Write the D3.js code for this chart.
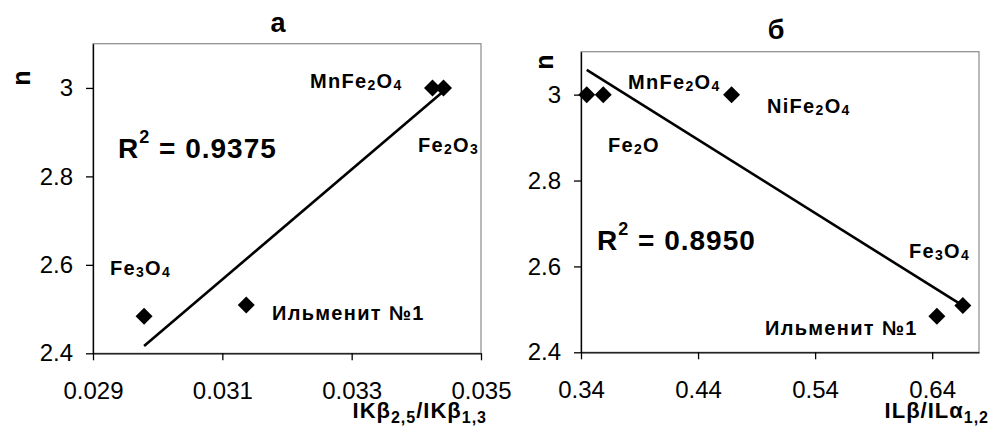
<!DOCTYPE html>
<html><head><meta charset="utf-8">
<script src="https://cdn.jsdelivr.net/npm/d3@7"></script>
<style>body{margin:0;background:#fff} text{font-family:"Liberation Sans",Arial,sans-serif;fill:#000}</style>
</head><body><svg id="c" width="991" height="434"></svg>
<script>
// ---- data ----
const aX = [0.02979, 0.03137, 0.03425, 0.03442];
const aY = [2.484, 2.509, 3.0, 3.0];
const bX = [0.3449, 0.359, 0.4686, 0.644, 0.6662];
const bY = [3.0, 3.0, 3.0, 2.484, 2.509];
const aXTicks = [0.029, 0.031, 0.033, 0.035];
const aXTickLabels = ["0.029", "0.031", "0.033", "0.035"];
const bXTicks = [0.34, 0.44, 0.54, 0.64];
const bXTickLabels = ["0.34", "0.44", "0.54", "0.64"];
const yTicks = [2.4, 2.6, 2.8, 3];
const yTickLabels = ["2.4", "2.6", "2.8", "3"];
const titles = ["а", "б"];
const r2Values = ["0.9375", "0.8950"];
const aLabels = ["MnFe_2O_4", "Fe_2O_3", "Fe_3O_4", "Ильменит №1"];
const bLabels = ["MnFe_2O_4", "NiFe_2O_4", "Fe_2O", "Fe_3O_4", "Ильменит №1"];
const xTitles = ["IKβ_{2,5}/IKβ_{1,3}", "ILβ/ILα_{1,2}"];
const yTitle = "n";

// ---- layout ----
const panels = [
  { xs: aX, ys: aY, xDomain: [0.029, 0.035], yDomain: [2.4, 3.1],
    xRange: [93, 481], yRange: [353.3, 43.7],
    xTicks: aXTicks, xTickLabels: aXTickLabels,
    title: titles[0], titlePos: [278, 32],
    nPos: [30, 78], r2: r2Values[0], r2Pos: [118, 158],
    labels: aLabels, labelPos: [[310, 88], [418, 152], [110, 275], [272, 320]],
    xTitle: xTitles[0], xTitlePos: [487, 418] },
  { xs: bX, ys: bY, xDomain: [0.34, 0.68], yDomain: [2.4, 3.1],
    xRange: [581, 979], yRange: [352.3, 51.7],
    xTicks: bXTicks, xTickLabels: bXTickLabels,
    title: titles[1], titlePos: [776, 39],
    nPos: [553, 62], r2: r2Values[1], r2Pos: [597, 250],
    labels: bLabels, labelPos: [[628, 89], [767, 113], [608, 152], [909, 258], [765, 335]],
    xTitle: xTitles[1], xTitlePos: [989, 418] }
];

const svg = d3.select("#c");
svg.append("rect").attr("width", 991).attr("height", 434).attr("fill", "#fff");

function parseRich(str) {
  const segs = []; const re = /_\{([^}]*)\}|_(\d)/g; let last = 0, m;
  while ((m = re.exec(str))) {
    if (m.index > last) segs.push({ t: str.slice(last, m.index), sub: false });
    segs.push({ t: m[1] !== undefined ? m[1] : m[2], sub: true });
    last = re.lastIndex;
  }
  if (last < str.length) segs.push({ t: str.slice(last), sub: false });
  return segs;
}
function richText(sel, str, subSize, subDy) {
  let shift = 0;
  parseRich(str).forEach(s => {
    const ts = sel.append("tspan").text(s.t);
    if (s.sub) { ts.attr("font-size", subSize).attr("dy", subDy - shift); shift = subDy; }
    else { ts.attr("dy", -shift); shift = 0; }
  });
}

panels.forEach(p => {
  const x = d3.scaleLinear().domain(p.xDomain).range(p.xRange);
  const y = d3.scaleLinear().domain(p.yDomain).range(p.yRange);
  const g = svg.append("g");

  // plot frame (gray)
  g.append("rect")
    .attr("x", p.xRange[0]).attr("y", p.yRange[1])
    .attr("width", p.xRange[1] - p.xRange[0]).attr("height", p.yRange[0] - p.yRange[1])
    .attr("fill", "none").attr("stroke", "#8a8a8a").attr("stroke-width", 1.2);

  // axes
  const ax = g.append("g").attr("transform", `translate(0,${p.yRange[0]})`)
    .call(d3.axisBottom(x).tickValues(p.xTicks).tickFormat((d, i) => p.xTickLabels[i])
      .tickSize(7).tickSizeOuter(0).tickPadding(22));
  const ay = g.append("g").attr("transform", `translate(${p.xRange[0]},0)`)
    .call(d3.axisLeft(y).tickValues(yTicks).tickFormat((d, i) => yTickLabels[i])
      .tickSize(7).tickSizeOuter(0).tickPadding(13));
  [ax, ay].forEach(a => {
    a.selectAll("path,line").attr("stroke", "#000").attr("stroke-width", 1.3);
    a.selectAll("text").attr("font-size", 24).attr("font-family", '"Liberation Sans",Arial,sans-serif').attr("fill", "#000");
  });

  // linear trendline (least squares over the points)
  const n = p.xs.length;
  const mx = d3.mean(p.xs), my = d3.mean(p.ys);
  let sxy = 0, sxx = 0;
  for (let i = 0; i < n; i++) { sxy += (p.xs[i] - mx) * (p.ys[i] - my); sxx += (p.xs[i] - mx) ** 2; }
  const slope = sxy / sxx, icpt = my - slope * mx;
  const ext = d3.extent(p.xs);
  g.append("path")
    .datum(ext.map(v => [v, icpt + slope * v]))
    .attr("d", d3.line().x(d => x(d[0])).y(d => y(d[1])))
    .attr("stroke", "#000").attr("stroke-width", 2.6).attr("fill", "none");

  // markers
  g.selectAll(".pt").data(p.xs.map((v, i) => [v, p.ys[i]])).join("path")
    .attr("transform", d => `translate(${x(d[0])},${y(d[1])})`)
    .attr("d", "M0,-8.5L8.5,0L0,8.5L-8.5,0Z").attr("fill", "#000");

  // title
  g.append("text").attr("x", p.titlePos[0]).attr("y", p.titlePos[1])
    .attr("text-anchor", "middle").attr("font-size", 27).attr("font-weight", "bold").text(p.title);

  // y title
  g.append("text").attr("transform", `translate(${p.nPos[0]},${p.nPos[1]}) rotate(-90)`)
    .attr("text-anchor", "middle").attr("font-size", 25).attr("font-weight", "bold").text(yTitle);

  // R^2
  const rt = g.append("text").attr("x", p.r2Pos[0]).attr("y", p.r2Pos[1])
    .attr("font-size", 28).attr("font-weight", "bold").attr("letter-spacing", 1);
  rt.append("tspan").text("R");
  rt.append("tspan").attr("font-size", 18).attr("dy", -15).text("2");
  rt.append("tspan").attr("dy", 15).text(" = " + p.r2);

  // point labels
  p.labels.forEach((lab, i) => {
    const t = g.append("text").attr("x", p.labelPos[i][0]).attr("y", p.labelPos[i][1])
      .attr("font-size", 20).attr("font-weight", "bold").attr("letter-spacing", 1.3);
    richText(t, lab, 14, 1.5);
  });

  // x title
  const xt = g.append("text").attr("x", p.xTitlePos[0]).attr("y", p.xTitlePos[1])
    .attr("text-anchor", "end").attr("font-size", 22).attr("font-weight", "bold").attr("letter-spacing", 1);
  richText(xt, p.xTitle, 16, 5);
});
</script>
</body></html>
